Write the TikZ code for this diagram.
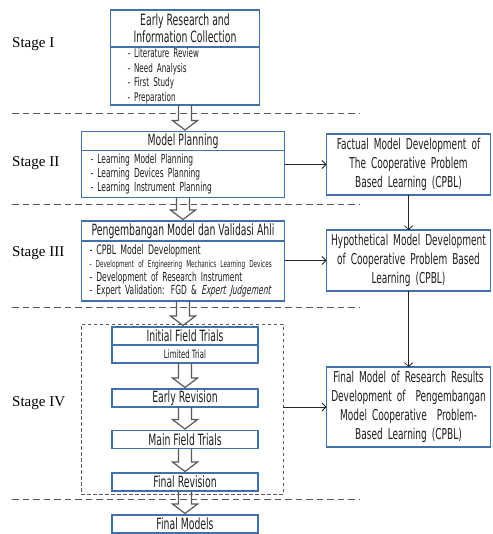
\documentclass[tikz,border=0pt]{standalone}
\usepackage{fontspec}
\setmainfont{Liberation Serif}
\newfontfamily\narrowsf{DejaVu Sans}[FakeStretch=0.6, ItalicFont={DejaVu Sans}, ItalicFeatures={FakeSlant=0.2}]
\usetikzlibrary{arrows.meta,positioning,calc}
\definecolor{boxblue}{RGB}{65,113,170}
\definecolor{inkgray}{RGB}{30,30,30}
\definecolor{arrowgray}{RGB}{89,89,89}
\tikzset{
  phasehead/.style={draw=boxblue, rectangle, line width=1.6pt, outer sep=0pt, inner sep=1pt, text=inkgray, align=center, font=\narrowsf\fontsize{15.5}{17}\selectfont},
  phasebody/.style={draw=boxblue, rectangle, line width=1.6pt, outer sep=0pt, inner ysep=1pt, text=inkgray, align=left, font=\narrowsf\fontsize{12.5}{14}\selectfont},
  sidebox/.style={draw=boxblue, rectangle, line width=1.6pt, outer sep=0pt, inner xsep=2pt, inner ysep=4pt, text width=160pt, text=inkgray, align=center, font=\narrowsf\fontsize{15}{19}\selectfont},
  groupbox/.style={draw=arrowgray, rectangle, line width=1pt, dash pattern=on 3.5pt off 2.5pt, outer sep=0pt},
  stagelabel/.style={anchor=west, inner sep=0pt, font=\fontsize{15}{17}\selectfont},
  stageline/.style={draw=arrowgray, line width=.9pt, dash pattern=on 6.5pt off 4pt},
  flowarrow/.style={draw=arrowgray, line width=1.2pt, line join=miter},
  sidewire/.style={draw=black!85, line width=.8pt, -{Straight Barb[length=4pt,width=8pt]}}
}
\newcommand{\hollowdown}[2]{%
  \draw[flowarrow] let \p1=(#1.south), \p2=(#2.north) in
    ({\x1-6.5pt},\y1) -- ({\x1-6.5pt},{\y2+11pt}) -- ({\x1-12.5pt},{\y2+11pt}) -- (\x1,{\y2+1.5pt})
    -- ({\x1+12.5pt},{\y2+11pt}) -- ({\x1+6.5pt},{\y2+11pt}) -- ({\x1+6.5pt},\y1);}

\begin{document}
\begin{tikzpicture}[x=1pt,y=-1pt]
    \useasboundingbox (0,0) rectangle (492,534);

    \foreach \y in {113,204,307,499}
      \draw[stageline] (12,\y) -- (360,\y);

    \node[stagelabel] (st1) at (12,44) {Stage I};
    \node[stagelabel] (st2) at (12,163) {Stage II};
    \node[stagelabel] (st3) at (12,253) {Stage III};
    \node[stagelabel] (st4) at (12,403) {Stage IV};

    % stage I
    \node[phasehead, minimum width=149pt, minimum height=37pt] (b1head) at (185,28.5) {Early Research and\\Information Collection};
    \node[phasebody, text width=115pt, inner xsep=17pt, minimum height=58pt, font=\narrowsf\fontsize{12}{14.5}\selectfont, below=0pt of b1head] (b1body)
      {- Literature Review\\- Need Analysis\\- First Study\\- Preparation};

    % stage II
    \node[phasehead, minimum width=203pt, minimum height=19pt] (b2head) at (183,141) {Model Planning};
    \node[phasebody, text width=185pt, inner xsep=9pt, minimum height=47pt, below=0pt of b2head] (b2body)
      {- Learning Model Planning\\- Learning Devices Planning\\- Learning Instrument Planning};

    % stage III
    \node[phasehead, minimum width=203pt, minimum height=20pt] (b3head) at (183,231) {Pengembangan Model dan Validasi Ahli};
    \node[phasebody, text width=187pt, inner xsep=8pt, minimum height=60pt, font=\narrowsf\fontsize{12.5}{13.5}\selectfont, below=0pt of b3head] (b3body)
      {{\fontsize{13}{13.5}\selectfont - CPBL Model Development}\\
       {\fontsize{9.5}{13.5}\selectfont - Development of Engineering Mechanics Learning Devices}\\
       - Development of Research Instrument\\
       - Expert Validation: FGD \& {\itshape Expert Judgement}};

    % stage IV
    \node[groupbox, minimum width=202pt, minimum height=170pt] (grp) at (182,409) {};
    \node[phasehead, minimum width=146pt, minimum height=18pt] (ifthead) at (185,336) {Initial Field Trials};
    \node[phasehead, minimum width=146pt, minimum height=18pt, font=\narrowsf\fontsize{11.5}{13}\selectfont, below=0pt of ifthead] (iftbody) {Limited Trial};
    \node[phasehead, minimum width=146pt, minimum height=18pt] (erev) at (185,398) {Early Revision};
    \node[phasehead, minimum width=146pt, minimum height=18pt] (mft) at (185,439.5) {Main Field Trials};
    \node[phasehead, minimum width=146pt, minimum height=18pt] (frev) at (185,482) {Final Revision};
    \node[phasehead, minimum width=146pt, minimum height=18pt] (fmod) at (185,524) {Final Models};

    \hollowdown{b1body}{b2head}
    \hollowdown{b2body}{b3head}
    \hollowdown{b3body}{ifthead}
    \hollowdown{iftbody}{erev}
    \hollowdown{erev}{mft}
    \hollowdown{mft}{frev}
    \hollowdown{frev}{fmod}

    % model development path
    \node[sidebox, minimum height=55pt] (fact) at (408.5,164.5) {Factual Model Development of\\The Cooperative Problem\\Based Learning (CPBL)};
    \node[sidebox, minimum height=55pt] (hyp) at (408.5,260.5) {Hypothetical Model Development\\of Cooperative Problem Based\\Learning (CPBL)};
    \node[sidebox, minimum height=74pt] (fin) at (408.5,407) {Final Model of Research Results\\Development of~ Pengembangan\\Model Cooperative~ Problem-\\Based Learning (CPBL)};

    \draw[sidewire] (fact.west -| b2body.east) -- (fact.west);
    \draw[sidewire] (hyp.west -| b3body.east) -- (hyp.west);
    \draw[sidewire] (fin.west -| grp.east) -- (fin.west);
    \draw[sidewire] (fact.south) -- (hyp.north);
    \draw[sidewire] (hyp.south) -- (fin.north);
\end{tikzpicture}
\end{document}
